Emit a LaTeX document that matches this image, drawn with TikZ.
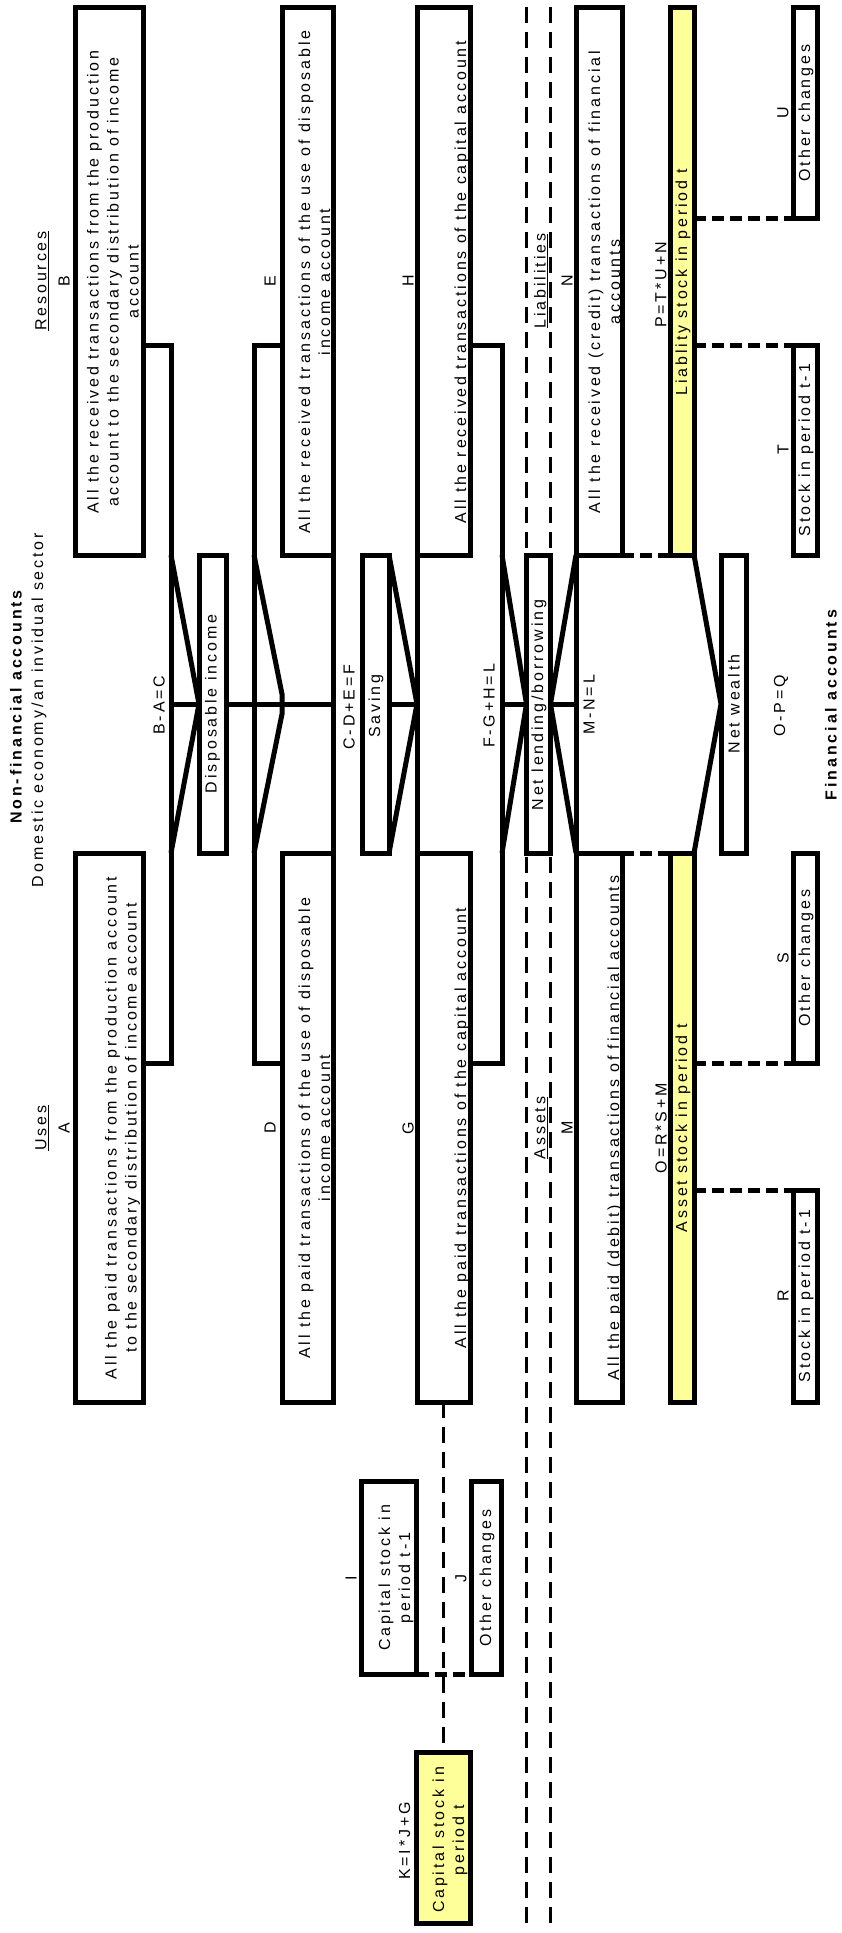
\documentclass[tikz,border=0pt]{standalone}
\usepackage{fontspec}
\setmainfont{Liberation Sans}[LetterSpace=18]
\definecolor{yel}{RGB}{255,255,153}
\tikzset{
  box/.style={draw, line width=5pt, fill=white, inner sep=0pt, outer sep=0pt},
  ybox/.style={box, fill=yel},
  ln/.style={line width=5pt, line join=miter},
  longdash/.style={line width=3pt, dash pattern=on 16pt off 9pt},
  cdash/.style={line width=5pt, dash pattern=on 12pt off 6pt},
  txt/.style={rotate=90, inner sep=0pt, align=center, font=\fontsize{16}{20}\selectfont},
  btxt/.style={txt, font=\fontsize{16}{20}\selectfont\bfseries},
}
\begin{document}
\begin{tikzpicture}[x=1pt, y=-1pt]
\useasboundingbox (0,0) rectangle (842,1933);
% long dashed separators
\coordinate (d1t) at (526.5,7); \coordinate (d1b) at (526.5,1926);
\coordinate (d2t) at (550.5,7); \coordinate (d2b) at (550.5,1926);
\draw[longdash] (d1t) -- (d1b);
\draw[longdash] (d2t) -- (d2b);
% boxes (geometry)
\path
 node[box, minimum width=68pt, minimum height=547.5pt] (B) at (109,281.25) {}
 node[box, minimum width=68pt, minimum height=549pt] (A) at (109,1127.5) {}
 node[box, minimum width=51pt, minimum height=547.5pt] (E) at (307.5,281.25) {}
 node[box, minimum width=51pt, minimum height=549pt] (D) at (307.5,1127.5) {}
 node[box, minimum width=53pt, minimum height=547.5pt] (H) at (443.5,281.25) {}
 node[box, minimum width=53pt, minimum height=549pt] (G) at (443.5,1127.5) {}
 node[box, minimum width=46pt, minimum height=547.5pt] (N) at (599,281.25) {}
 node[box, minimum width=46pt, minimum height=549pt] (M) at (599,1127.5) {}
 node[ybox, minimum width=24pt, minimum height=547.5pt] (Lia) at (682,281.25) {}
 node[ybox, minimum width=24pt, minimum height=549pt] (Ast) at (682,1127.5) {}
 node[box, minimum width=24pt, minimum height=210.5pt] (U) at (805,112.75) {}
 node[box, minimum width=24pt, minimum height=210pt] (T) at (805,450) {}
 node[box, minimum width=24pt, minimum height=210pt] (S) at (805,958) {}
 node[box, minimum width=24pt, minimum height=212pt] (R) at (805,1296) {}
 node[box, minimum width=27pt, minimum height=298pt] (Disp) at (212.5,704) {}
 node[box, minimum width=27pt, minimum height=298pt] (Sav) at (375.5,704) {}
 node[box, minimum width=24pt, minimum height=298pt] (NL) at (538.5,704) {}
 node[box, minimum width=25pt, minimum height=298pt] (NW) at (733.5,704) {}
 node[box, minimum width=55pt, minimum height=193.5pt] (I) at (389,1577.75) {}
 node[box, minimum width=29.5pt, minimum height=193.5pt] (J) at (486.25,1577.75) {}
 node[ybox, minimum width=54pt, minimum height=171pt] (K) at (443.5,1838) {};
% junction coordinates
\coordinate (v1t) at (171,345);  \coordinate (v1b) at (171,1063);
\coordinate (v2t) at (254,345);  \coordinate (v2b) at (254,1063);
\coordinate (v4t) at (502,345);  \coordinate (v4b) at (502,1063);
% column 1
\draw[ln] (B.east|-v1t) -- (v1t) -- (v1b) -- (A.east|-v1b);
\draw[ln] (v1t|-B.south) -- (Disp.west) -- (v1t|-A.north);
\draw[ln] (v1t|-Disp.west) -- (E.east|-Disp.west);
% column 2
\draw[ln] (E.west|-v2t) -- (v2t) -- (v2b) -- (D.west|-v2b);
\draw[ln] (v2t|-E.south) -- (E.west|-0,694) -- (E.west|-0,714) -- (v2t|-D.north);
\draw[ln] (E.south east) -- (D.north east);
% saving
\draw[ln] (Sav.north east) -- (H.west|-Sav.east) -- (Sav.south east);
\draw[ln] (Sav.east) -- (H.west|-Sav.east);
\draw[ln] (H.south west) -- (G.north west);
% column 4
\draw[ln] (H.east|-v4t) -- (v4t) -- (v4b) -- (G.east|-v4b);
\draw[ln] (v4t|-H.south) -- (NL.west) -- (v4t|-G.north);
\draw[ln] (v4t|-NL.west) -- (NL.west);
% net lending to financial
\draw[ln] (N.south west) -- (NL.east) -- (M.north west);
\draw[ln] (NL.east) -- (N.west|-NL.east);
\draw[ln] (N.south west) -- (M.north west);
\draw[cdash] (N.south east) -- (Lia.south west);
\draw[cdash] (M.north east) -- (Ast.north west);
\draw[ln] (Lia.south east) -- (NW.west) -- (Ast.north east);
\draw[cdash] (Lia.east|-U.south) -- (U.south west);
\draw[cdash] (Lia.east|-T.north) -- (T.north west);
\draw[cdash] (Ast.east|-S.south) -- (S.south west);
\draw[cdash] (Ast.east|-R.north) -- (R.north west);
% capital stock
\draw[longdash] (G.south) -- (K.north);
\draw[cdash] (I.south east) -- (J.south west);
% redraw boxes on top
\foreach \n in {B,A,E,D,H,G,N,M,U,T,S,R,Disp,Sav,NL,NW,I,J}{
  \draw[line width=5pt, fill=white] (\n.north west) rectangle (\n.south east);
}
\foreach \n in {Lia,Ast,K}{
  \draw[line width=5pt, fill=yel] (\n.north west) rectangle (\n.south east);
}
% titles
\node[btxt] (t1) at (16,707) {Non-financial accounts};
\node[txt] (t2) at (39,710) {Domestic economy/an invidual sector};
\node[btxt] (t3) at (831,705) {Financial accounts};
% labels
\node[txt] (lres) at (42,281) {\underline{Resources}};
\node[txt] (lB) at (64,281) {B};
\node[txt] (luse) at (42,1128) {\underline{Uses}};
\node[txt] (lA) at (64,1128) {A};
\node[txt] (lE) at (270,281) {E};
\node[txt] (lD) at (270,1128) {D};
\node[txt] (lH) at (408,281) {H};
\node[txt] (lG) at (408,1128) {G};
\node[txt] (lliab) at (541,281) {\underline{Liabilities}};
\node[txt] (lass) at (541,1128) {\underline{Assets}};
\node[txt] (lN) at (567,281) {N};
\node[txt] (lM) at (567,1128) {M};
\node[txt] (fP) at (661,285) {P=T*U+N};
\node[txt] (fO) at (661,1128) {O=R*S+M};
\node[txt] (lU) at (783,113) {U};
\node[txt] (lT) at (783,450) {T};
\node[txt] (lS) at (783,958) {S};
\node[txt] (lR) at (783,1296) {R};
\node[txt] (lI) at (351,1578) {I};
\node[txt] (lJ) at (461,1578) {J};
\node[txt] (fK) at (404.5,1841) {K=I*J+G};
% formulas
\node[txt] (f1) at (159,705) {B-A=C};
\node[txt] (f2) at (349,707) {C-D+E=F};
\node[txt] (f3) at (489,706) {F-G+H=L};
\node[txt] (f4) at (589,705) {M-N=L};
\node[txt] (f5) at (781,706) {O-P=Q};
% box texts
\node[txt] (xB) at (113,282) {All the received transactions from the production\\account to the secondary distribution of income\\account};
\node[txt] (xA) at (122.5,1128) {All the paid transactions from the production account\\to the secondary distribution of income account};
\node[txt] (xE) at (314.5,282) {All the received transactions of the use of disposable\\income account};
\node[txt] (xD) at (314.5,1128) {All the paid transactions of the use of disposable\\income account};
\node[txt] (xH) at (462,282) {All the received transactions of the capital account};
\node[txt] (xG) at (462,1128) {All the paid transactions of the capital account};
\node[txt] (xN) at (604.5,282) {All the received (credit) transactions of financial\\accounts};
\node[txt] (xM) at (615,1128) {All the paid (debit) transactions of financial accounts};
\node[txt] (xLia) at (683,282) {Liablity stock in period t};
\node[txt] (xAst) at (683,1128) {Asset stock in period t};
\node[txt] (xU) at (806,113) {Other changes};
\node[txt] (xT) at (806,450) {Stock in period t-1};
\node[txt] (xS) at (806,958) {Other changes};
\node[txt] (xR) at (806,1296) {Stock in period t-1};
\node[txt] (xDisp) at (212.5,704) {Disposable income};
\node[txt] (xSav) at (376,706) {Saving};
\node[txt] (xNL) at (539,705) {Net lending/borrowing};
\node[txt] (xNW) at (734,704) {Net wealth};
\node[txt] (xI) at (396,1578) {Capital stock in\\period t-1};
\node[txt] (xJ) at (487,1578) {Other changes};
\node[txt] (xK) at (450,1840) {Capital stock in\\period t};
\end{tikzpicture}
\end{document}
